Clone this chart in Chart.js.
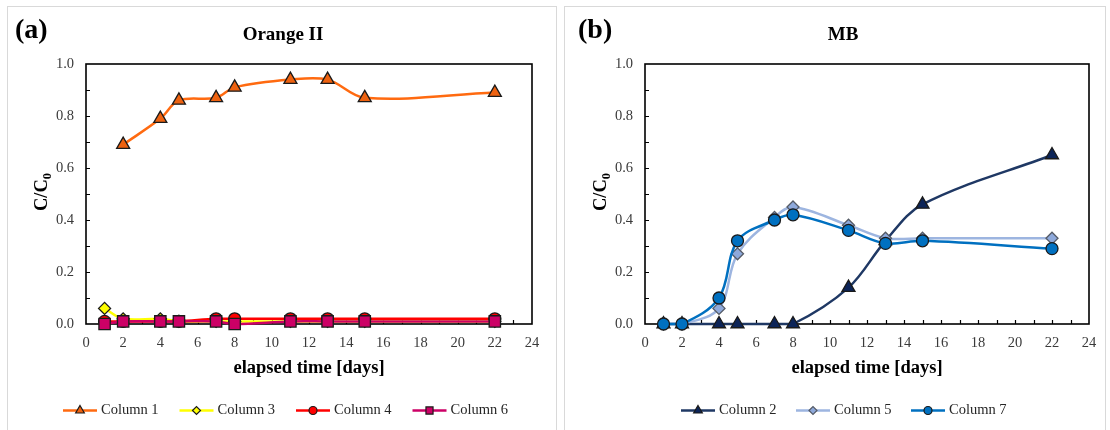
<!DOCTYPE html>
<html>
<head>
<meta charset="utf-8">
<script src="https://cdn.jsdelivr.net/npm/chart.js@4.4.1/dist/chart.umd.min.js"></script>
<style>
  html, body { margin: 0; padding: 0; background: #fff; width: 1110px; height: 430px; overflow: hidden; }
  .panel { position: absolute; border: 1px solid #d9d9d9; box-sizing: border-box; }
  canvas { position: absolute; top: 0; }
</style>
</head>
<body>
<div class="panel" style="left:7px; top:6px; width:550px; height:440px;"></div>
<div class="panel" style="left:564px; top:6px; width:542px; height:440px;"></div>
<canvas id="chartA" style="left:0; width:560px; height:430px;" width="560" height="430"></canvas>
<canvas id="chartB" style="left:560px; width:550px; height:430px;" width="550" height="430"></canvas>
<script>
// Sampling days (elapsed time)
const days = [1, 2, 4, 5, 7, 8, 11, 13, 15, 22];

// Orange II, C/C0
const column1 = [null, 0.69, 0.79, 0.86, 0.87, 0.91, 0.94, 0.94, 0.87, 0.89];
const column3 = [0.06, 0.02, 0.02, 0.01, 0.01, 0.01, 0.01, 0.01, 0.01, 0.01];
const column4 = [0.01, 0.01, 0.01, 0.01, 0.02, 0.02, 0.02, 0.02, 0.02, 0.02];
const column6 = [0.00, 0.01, 0.01, 0.01, 0.01, 0.00, 0.01, 0.01, 0.01, 0.01];

// MB, C/C0
const column2 = [0, 0, 0, 0, 0, 0, 0.14, 0.32, 0.46, 0.65];
const column5 = [0, 0, 0.06, 0.27, 0.41, 0.45, 0.38, 0.33, 0.33, 0.33];
const column7 = [0, 0, 0.10, 0.32, 0.40, 0.42, 0.36, 0.31, 0.32, 0.29];

// Axis ticks
const xTickValues = [0, 2, 4, 6, 8, 10, 12, 14, 16, 18, 20, 22, 24];
const yTickValues = [0, 0.2, 0.4, 0.6, 0.8, 1.0];
const yTickLabels = ['0.0', '0.2', '0.4', '0.6', '0.8', '1.0'];
const xMinorStep = 1;
const yMinorStep = 0.1;

const SERIF = '"Liberation Serif", "Times New Roman", serif';

function toPoints(values) {
  const pts = [];
  values.forEach((v, i) => { if (v !== null) pts.push({ x: days[i], y: v }); });
  return pts;
}

function series(label, values, style) {
  return Object.assign({
    label,
    data: toPoints(values),
    showLine: true,
    tension: 0.35,
    borderWidth: 2.5,
    pointBorderWidth: 1.3,
    pointBorderColor: '#1a1a1a',
    clip: false
  }, style);
}

// Plot frame and inward minor ticks
const frameAndTicks = {
  id: 'frameAndTicks',
  beforeDatasetsDraw(chart) {
    const { ctx, chartArea: a, scales: { x, y } } = chart;
    ctx.save();
    ctx.strokeStyle = '#000';
    ctx.lineWidth = 1.2;
    ctx.beginPath();
    for (let d = x.min + xMinorStep; d < x.max - 1e-9; d += xMinorStep) {
      const px = Math.round(x.getPixelForValue(d)) + 0.5;
      ctx.moveTo(px, a.bottom); ctx.lineTo(px, a.bottom - 4);
    }
    for (let v = y.min + yMinorStep; v < y.max - 1e-9; v += yMinorStep) {
      const py = Math.round(y.getPixelForValue(v)) + 0.5;
      ctx.moveTo(a.left, py); ctx.lineTo(a.left + 4, py);
    }
    ctx.stroke();
    ctx.lineWidth = 1.6;
    ctx.strokeRect(a.left, a.top, a.right - a.left, a.bottom - a.top);
    ctx.restore();
  }
};

// Panel letter, title, axis titles and line+marker legend
const annotations = {
  id: 'annotations',
  afterDraw(chart, args, opts) {
    const { ctx, chartArea: a } = chart;
    ctx.save();
    ctx.fillStyle = '#000';
    ctx.textBaseline = 'alphabetic';

    ctx.font = 'bold 28px ' + SERIF;
    ctx.textAlign = 'left';
    ctx.fillText(opts.letter, opts.letterX, 38);

    ctx.font = 'bold 19px ' + SERIF;
    ctx.textAlign = 'center';
    ctx.fillText(opts.title, opts.titleX, 39.5);

    ctx.font = 'bold 18.5px ' + SERIF;
    ctx.fillText('elapsed time [days]', (a.left + a.right) / 2, 372.5);

    // y-axis title C/C0 with subscript
    ctx.save();
    ctx.translate(a.left - 39.5, (a.top + a.bottom) / 2 - 2);
    ctx.rotate(-Math.PI / 2);
    ctx.font = 'bold 18.5px ' + SERIF;
    const main = 'C/C';
    const wMain = ctx.measureText(main).width;
    ctx.font = 'bold 12.5px ' + SERIF;
    const wSub = ctx.measureText('0').width;
    const x0 = -(wMain + wSub) / 2;
    ctx.textAlign = 'left';
    ctx.font = 'bold 18.5px ' + SERIF;
    ctx.fillText(main, x0, 0);
    ctx.font = 'bold 12.5px ' + SERIF;
    ctx.fillText('0', x0 + wMain, 4);
    ctx.restore();

    // legend
    const ly = 410.5;
    chart.data.datasets.forEach((ds, i) => {
      const lx = opts.legendX + i * opts.legendGap;
      ctx.strokeStyle = ds.borderColor;
      ctx.lineWidth = 2.5;
      ctx.beginPath();
      ctx.moveTo(lx, ly); ctx.lineTo(lx + 34, ly);
      ctx.stroke();
      ctx.fillStyle = ds.pointBackgroundColor;
      ctx.strokeStyle = ds.pointBorderColor;
      ctx.lineWidth = 1.2;
      Chart.helpers.drawPoint(ctx, {
        pointStyle: ds.pointStyle,
        radius: ds.legendRadius,
        borderWidth: 1.2,
        rotation: 0
      }, lx + 17, ly);
      ctx.fillStyle = '#262626';
      ctx.font = '14.5px ' + SERIF;
      ctx.textAlign = 'left';
      ctx.textBaseline = 'middle';
      ctx.fillText(ds.label, lx + 38, ly);
      ctx.textBaseline = 'alphabetic';
    });
    ctx.restore();
  }
};

function makeOptions(rightPad, ann) {
  return {
    responsive: false,
    animation: false,
    devicePixelRatio: 1,
    layout: { padding: { left: 0, right: rightPad, top: 64, bottom: 0 } },
    plugins: {
      legend: { display: false },
      tooltip: { enabled: false },
      annotations: ann
    },
    scales: {
      x: {
        type: 'linear',
        min: 0, max: 24,
        afterBuildTicks: s => { s.ticks = xTickValues.map(v => ({ value: v })); },
        afterFit: s => { s.height = 106; },
        grid: { display: false, drawTicks: false },
        border: { display: false },
        ticks: {
          padding: 10,
          color: '#3a3a3a',
          font: { family: SERIF, size: 14.5 },
          maxRotation: 0,
          autoSkip: false,
          callback: v => String(v)
        }
      },
      y: {
        type: 'linear',
        min: 0, max: 1,
        afterBuildTicks: s => { s.ticks = yTickValues.map(v => ({ value: v })); },
        afterFit: s => { s.width = ann.axisLeft; },
        grid: { display: false, drawTicks: false },
        border: { display: false },
        ticks: {
          padding: 12,
          color: '#3a3a3a',
          font: { family: SERIF, size: 14.5 },
          autoSkip: false,
          callback: (v, i) => yTickLabels[i]
        }
      }
    }
  };
}

new Chart(document.getElementById('chartA'), {
  type: 'scatter',
  data: {
    datasets: [
      series('Column 1', column1, {
        borderColor: '#FF6A10', pointBackgroundColor: '#EE6210',
        pointStyle: 'triangle', pointRadius: 7.5, legendRadius: 5, order: 3
      }),
      series('Column 3', column3, {
        borderColor: '#FFFF00', pointBackgroundColor: '#FFFF00',
        pointStyle: 'rectRot', pointRadius: 6, legendRadius: 4, order: 2
      }),
      series('Column 4', column4, {
        borderColor: '#FF0000', pointBackgroundColor: '#FF0000',
        pointStyle: 'circle', pointRadius: 6, legendRadius: 4, order: 1
      }),
      series('Column 6', column6, {
        borderColor: '#CC0066', pointBackgroundColor: '#CC0066',
        pointStyle: 'rect', pointRadius: 8, legendRadius: 5, order: 0
      })
    ]
  },
  options: makeOptions(28, {
    letter: '(a)', letterX: 15, title: 'Orange II', titleX: 283,
    legendX: 63, legendGap: 116.5, axisLeft: 86
  }),
  plugins: [frameAndTicks, annotations]
});

new Chart(document.getElementById('chartB'), {
  type: 'scatter',
  data: {
    datasets: [
      series('Column 2', column2, {
        borderColor: '#1F3864', pointBackgroundColor: '#0C2458',
        pointStyle: 'triangle', pointRadius: 7.5, legendRadius: 5, order: 2
      }),
      series('Column 5', column5, {
        borderColor: '#9DB5E0', pointBackgroundColor: '#8EA9DB', pointBorderColor: '#555b66',
        pointStyle: 'rectRot', pointRadius: 6, legendRadius: 4, order: 1
      }),
      series('Column 7', column7, {
        borderColor: '#0070C0', pointBackgroundColor: '#0070C0',
        pointStyle: 'circle', pointRadius: 6, legendRadius: 4, order: 0
      })
    ]
  },
  options: makeOptions(21, {
    letter: '(b)', letterX: 18, title: 'MB', titleX: 283,
    legendX: 121, legendGap: 115, axisLeft: 85
  }),
  plugins: [frameAndTicks, annotations]
});
</script>
</body>
</html>
